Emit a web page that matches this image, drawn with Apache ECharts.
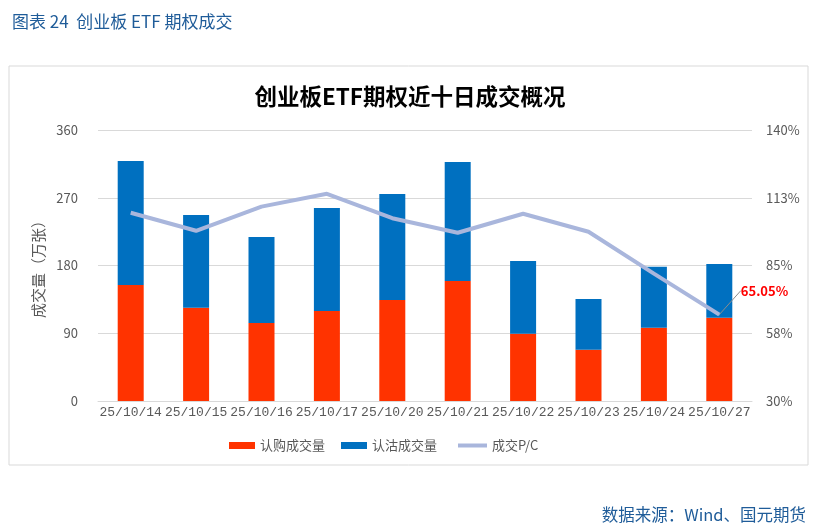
<!DOCTYPE html>
<html>
<head>
<meta charset="utf-8">
<script src="https://cdn.jsdelivr.net/npm/echarts@6/dist/echarts.min.js"></script>
<style>html,body{margin:0;padding:0;background:#fff;}#c{width:820px;height:528px;}</style>
</head>
<body>
<div id="c"></div>
<script>
var categories = ['25/10/14','25/10/15','25/10/16','25/10/17','25/10/20','25/10/21','25/10/22','25/10/23','25/10/24','25/10/27'];
var callVolume = [154.1, 124.0, 103.6, 119.6, 134.2, 159.4, 89.4, 68.2, 97.4, 110.7];
var putVolume = [164.7, 123.1, 114.3, 136.8, 140.8, 158.1, 96.6, 67.3, 81.0, 71.3];
var pcRatio = [106.4, 99.1, 108.9, 114.1, 104.2, 98.3, 106.0, 98.7, 81.7, 65.05];
var seriesNames = ['认购成交量', '认沽成交量', '成交P/C'];

var chart = echarts.init(document.getElementById('c'));
var font = '"Noto Sans CJK SC", "Noto Sans", sans-serif';
var mono = '"Liberation Mono", "Noto Sans CJK SC", monospace';
var lineColor = '#A9B6DC';
var pcData = pcRatio.map(function (v, i) {
  if (i === pcRatio.length - 1) {
    return {
      value: v,
      symbol: 'circle',
      symbolSize: 1,
      label: {
        show: true,
        formatter: function (p) { return p.value.toFixed(2) + '%'; },
        color: '#FF0000',
        fontWeight: 'bold',
        fontSize: 13,
        fontFamily: font,
        position: 'right'
      }
    };
  }
  return v;
});

chart.setOption({
  animation: false,
  textStyle: { fontFamily: font },
  graphic: [{
    type: 'rect',
    shape: { x: 9, y: 66, width: 799, height: 399 },
    style: { fill: 'none', stroke: '#d9d9d9', lineWidth: 1 }
  }],
  title: [
    { text: '图表 24  创业板 ETF 期权成交', left: 7, top: 8,
      textStyle: { color: '#1F5C99', fontSize: 17, fontWeight: 'normal', fontFamily: font } },
    { text: '创业板ETF期权近十日成交概况', left: 'center', top: 80,
      textStyle: { color: '#000', fontSize: 22.5, fontWeight: 'bold', fontFamily: font } },
    { text: '数据来源：Wind、国元期货', right: 9, top: 501,
      textStyle: { color: '#1F5C99', fontSize: 16.5, fontWeight: 'normal', fontFamily: font } }
  ],
  legend: [{
    top: 434, left: 224,
    itemGap: 16,
    itemWidth: 26, itemHeight: 7,
    textStyle: { color: '#595959', fontSize: 13, fontFamily: font },
    data: [
      { name: seriesNames[0], icon: 'rect' },
      { name: seriesNames[1], icon: 'rect' }
    ]
  }, {
    top: 434, left: 453,
    itemWidth: 29, itemHeight: 4,
    textStyle: { color: '#595959', fontSize: 13, fontFamily: font },
    data: [
      { name: seriesNames[2], icon: 'rect', itemStyle: { color: lineColor } }
    ]
  }],
  grid: { left: 98, right: 68, top: 130, bottom: 127 },
  xAxis: {
    type: 'category',
    data: categories,
    axisLine: { lineStyle: { color: '#d9d9d9' } },
    axisTick: { show: false },
    axisLabel: { color: '#595959', fontSize: 13, margin: 5, interval: 0, fontFamily: mono }
  },
  yAxis: [{
    type: 'value', min: 0, max: 360, interval: 90,
    name: '成交量（万张）', nameLocation: 'middle', nameGap: 44, nameRotate: 90,
    nameTextStyle: { color: '#595959', fontSize: 15 },
    axisLine: { show: false }, axisTick: { show: false },
    axisLabel: { color: '#595959', fontSize: 13, margin: 20 },
    splitLine: { lineStyle: { color: '#d9d9d9' } }
  }, {
    type: 'value', min: 30, max: 140, interval: 27.5,
    axisLine: { show: false }, axisTick: { show: false },
    axisLabel: { color: '#595959', fontSize: 13, margin: 14,
      formatter: function (v) { return Math.round(v) + '%'; } },
    splitLine: { show: false }
  }],
  series: [{
    name: seriesNames[0], type: 'bar', stack: 'vol', barWidth: 26,
    itemStyle: { color: '#FF3300' }, data: callVolume
  }, {
    name: seriesNames[1], type: 'bar', stack: 'vol', barWidth: 26,
    itemStyle: { color: '#0070C0' }, data: putVolume
  }, {
    name: seriesNames[2], type: 'line', yAxisIndex: 1,
    symbol: 'none', showSymbol: true,
    lineStyle: { color: lineColor, width: 4 },
    itemStyle: { color: lineColor },
    labelLayout: { dx: 16, dy: -24 },
    labelLine: { show: true, lineStyle: { color: '#8c8c8c', width: 1 } },
    data: pcData
  }]
});
</script>
</body>
</html>
